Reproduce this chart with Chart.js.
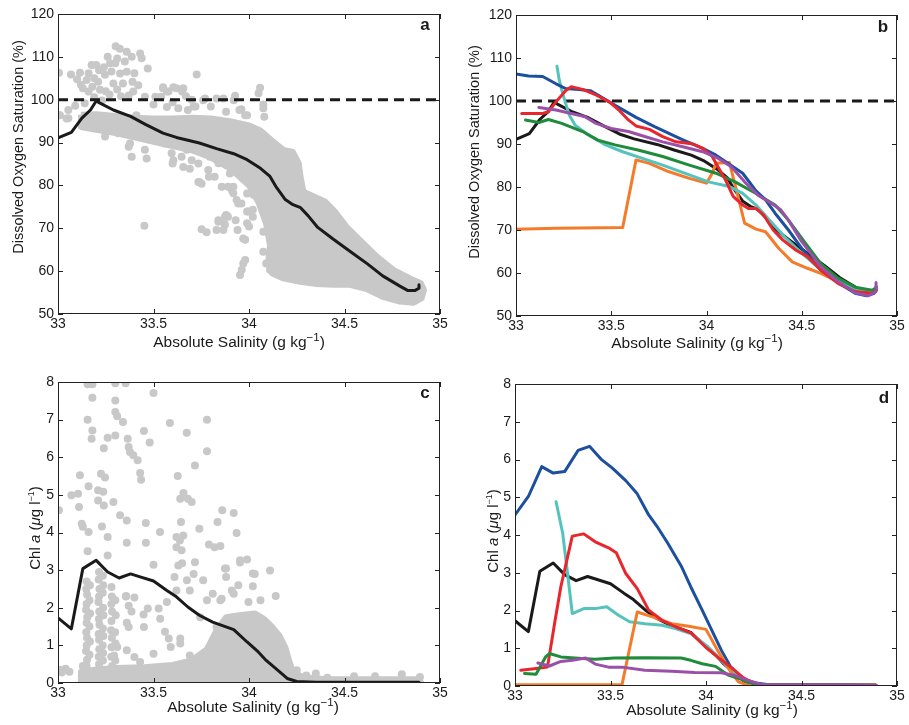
<!DOCTYPE html>
<html>
<head>
<meta charset="utf-8">
<script src="https://cdn.jsdelivr.net/npm/chart.js@4.4.0/dist/chart.umd.min.js"></script>
<style>
  html, body { margin: 0; padding: 0; background: #fff; }
  #wrap { position: relative; width: 909px; height: 725px; }
  #wrap canvas { position: absolute; }
</style>
</head>
<body>
<div id="wrap">
  <canvas id="panelA" width="455" height="360" style="left:0;top:0"></canvas>
  <canvas id="panelB" width="454" height="360" style="left:455px;top:0"></canvas>
  <canvas id="panelC" width="455" height="365" style="left:0;top:360px"></canvas>
  <canvas id="panelD" width="454" height="365" style="left:455px;top:360px"></canvas>
</div>
<script>
// Oxygen saturation and Chl a against absolute salinity

const salinityTicks = [33, 33.5, 34, 34.5, 35];
const oxygenTicks = [50, 60, 70, 80, 90, 100, 110, 120];
const chlTicks = [0, 1, 2, 3, 4, 5, 6, 7, 8];
const saturationLevel = 100;

// mean profiles
const o2Mean = [[33.0,91.1],[33.07,92.4],[33.125,95.7],[33.17,97.6],[33.2,99.7],[33.22,99.2],[33.29,97.6],[33.38,96.1],[33.46,94.2],[33.55,92.2],[33.62,91.2],[33.74,89.9],[33.83,88.6],[33.92,87.4],[33.99,86.0],[34.06,84.0],[34.11,82.1],[34.14,79.8],[34.19,76.7],[34.23,75.5],[34.27,74.8],[34.31,72.9],[34.36,70.2],[34.44,67.5],[34.53,64.6],[34.62,61.7],[34.70,58.9],[34.79,56.5],[34.83,55.5],[34.87,55.5],[34.89,56.0],[34.89,56.8]];
const chlMean = [[33.0,1.73],[33.07,1.44],[33.13,3.04],[33.2,3.26],[33.26,2.95],[33.32,2.79],[33.38,2.9],[33.43,2.82],[33.5,2.71],[33.57,2.46],[33.62,2.29],[33.68,2.02],[33.74,1.80],[33.81,1.62],[33.92,1.42],[33.99,1.09],[34.05,0.82],[34.09,0.60],[34.15,0.34],[34.2,0.12],[34.25,0.04],[34.35,0.02],[34.89,0.02]];

// individual profiles, oxygen
const o2Blue = [[33.0,106.3],[33.066,105.8],[33.14,105.7],[33.21,104.0],[33.26,102.9],[33.33,102.7],[33.39,102.4],[33.43,101.4],[33.5,99.5],[33.63,96.2],[33.73,94.0],[33.87,91.1],[33.98,89.0],[34.05,87.4],[34.12,85.3],[34.19,83.2],[34.26,79.1],[34.31,77.0],[34.36,73.9],[34.43,70.0],[34.5,65.7],[34.6,60.7],[34.71,57.2],[34.78,55.3],[34.84,54.7],[34.88,55.3],[34.89,56.0]];
const o2Cyan = [[33.215,108.1],[33.227,104.9],[33.24,102.6],[33.26,99.5],[33.28,96.7],[33.31,94.4],[33.38,92.1],[33.47,89.8],[33.56,88.2],[33.66,86.7],[33.77,85.1],[33.91,82.8],[34.01,81.2],[34.12,80.1],[34.19,78.5],[34.26,75.8],[34.33,72.3],[34.41,68.4],[34.5,64.6],[34.6,60.7],[34.71,57.6],[34.8,56.0],[34.88,55.9],[34.89,56.8]];
const o2Red = [[33.03,97.1],[33.14,97.1],[33.17,97.5],[33.21,99.8],[33.26,102.4],[33.29,103.3],[33.35,102.7],[33.42,101.4],[33.49,99.8],[33.54,97.9],[33.59,95.6],[33.63,94.2],[33.7,93.4],[33.77,91.7],[33.84,90.5],[33.93,90.0],[33.98,89.0],[34.03,87.1],[34.06,84.7],[34.1,81.6],[34.14,77.8],[34.19,75.8],[34.22,75.0],[34.26,75.0],[34.3,73.5],[34.35,70.0],[34.4,67.7],[34.47,65.3],[34.53,63.8],[34.6,60.7],[34.69,57.6],[34.78,55.7],[34.87,55.3],[34.89,55.9]];
const o2Green = [[33.05,95.6],[33.12,95.0],[33.17,95.7],[33.24,94.8],[33.35,92.9],[33.43,90.9],[33.52,89.8],[33.64,88.6],[33.77,87.1],[33.91,85.1],[34.05,83.2],[34.15,81.2],[34.26,78.5],[34.36,75.8],[34.43,72.3],[34.52,66.9],[34.6,62.2],[34.69,58.8],[34.78,56.7],[34.87,56.0],[34.89,56.6]];
const o2Purple = [[33.12,98.5],[33.21,97.9],[33.29,97.1],[33.36,96.4],[33.42,94.8],[33.5,93.6],[33.59,92.9],[33.68,91.7],[33.77,90.5],[33.87,89.4],[33.98,88.2],[34.06,86.7],[34.13,84.7],[34.2,81.2],[34.27,78.1],[34.34,76.2],[34.39,74.7],[34.43,72.3],[34.5,67.3],[34.6,61.5],[34.69,58.0],[34.78,55.4],[34.85,54.7],[34.89,55.7],[34.89,57.8]];
const o2Orange = [[33.0,70.2],[33.21,70.4],[33.56,70.6],[33.63,86.3],[33.7,85.5],[33.8,83.6],[33.91,82.0],[34.0,80.9],[34.03,83.2],[34.05,85.5],[34.12,85.7],[34.17,77.0],[34.2,71.6],[34.26,70.2],[34.31,69.6],[34.38,65.7],[34.45,62.6],[34.53,61.1],[34.6,59.9],[34.69,58.0],[34.78,56.4],[34.87,55.7]];

// individual profiles, Chl a
const chlBlue = [[33.0,4.53],[33.07,5.02],[33.14,5.81],[33.2,5.64],[33.26,5.68],[33.33,6.24],[33.39,6.35],[33.45,6.01],[33.51,5.77],[33.58,5.44],[33.64,5.09],[33.7,4.53],[33.75,4.18],[33.8,3.78],[33.87,3.18],[33.92,2.63],[33.98,2.01],[34.03,1.48],[34.08,0.95],[34.13,0.50],[34.19,0.19],[34.26,0.08],[34.34,0.03],[34.89,0.02]];
const chlCyan = [[33.215,4.88],[33.25,4.04],[33.3,1.92],[33.36,2.05],[33.42,2.05],[33.48,2.10],[33.54,1.88],[33.6,1.70],[33.68,1.65],[33.77,1.61],[33.84,1.52],[33.92,1.39],[34.01,1.04],[34.08,0.68],[34.14,0.37],[34.2,0.15],[34.26,0.04],[34.89,0.02]];
const chlRed = [[33.03,0.42],[33.1,0.46],[33.17,0.50],[33.21,1.74],[33.24,2.63],[33.3,3.97],[33.36,4.03],[33.42,3.82],[33.49,3.66],[33.53,3.53],[33.58,2.98],[33.64,2.58],[33.7,2.01],[33.77,1.74],[33.84,1.57],[33.92,1.41],[34.0,1.02],[34.06,0.77],[34.13,0.50],[34.19,0.24],[34.26,0.04],[34.89,0.02]];
const chlOrange = [[33.0,0.03],[33.56,0.03],[33.64,1.96],[33.72,1.83],[33.82,1.65],[33.91,1.58],[34.0,1.50],[34.06,0.95],[34.13,0.37],[34.17,0.11],[34.22,0.02],[34.89,0.02]];
const chlGreen = [[33.05,0.33],[33.11,0.31],[33.16,0.77],[33.18,0.86],[33.24,0.77],[33.35,0.73],[33.42,0.71],[33.52,0.74],[33.68,0.75],[33.87,0.74],[33.92,0.68],[33.98,0.59],[34.05,0.52],[34.12,0.28],[34.19,0.17],[34.26,0.04],[34.89,0.02]];
const chlPurple = [[33.12,0.61],[33.18,0.53],[33.24,0.65],[33.3,0.68],[33.37,0.74],[33.42,0.58],[33.49,0.50],[33.56,0.50],[33.68,0.42],[33.82,0.39],[33.94,0.36],[34.08,0.35],[34.15,0.28],[34.22,0.15],[34.29,0.04],[34.89,0.02]];

// all observations: dense core outline plus scattered samples
const o2Cloud = [[33.12,96.5],[33.2,96.6],[33.3,96.2],[33.4,95.8],[33.5,95.6],[33.6,95.6],[33.7,95.8],[33.8,95.6],[33.9,95.0],[34.0,94.0],[34.06,92.8],[34.12,90.5],[34.18,88.3],[34.23,87.8],[34.26,85.2],[34.27,82.0],[34.285,78.5],[34.34,77.4],[34.40,76.2],[34.45,73.9],[34.51,70.4],[34.58,67.3],[34.67,63.4],[34.756,60.3],[34.843,58.3],[34.9,57.2],[34.916,55.6],[34.904,53.7],[34.86,52.6],[34.79,52.9],[34.70,54.0],[34.616,55.8],[34.53,56.8],[34.44,56.8],[34.354,57.0],[34.267,57.5],[34.18,58.3],[34.12,59.5],[34.10,62.0],[34.11,66.0],[34.09,71.0],[34.05,76.0],[34.0,80.0],[33.9,84.0],[33.8,86.5],[33.7,88.2],[33.6,89.2],[33.5,90.2],[33.4,91.2],[33.3,92.2],[33.2,93.0],[33.12,93.6],[33.12,96.5]];
const o2Samples = [[33.302,112.5],[33.324,111.9],[33.36,111.2],[33.386,110.0],[33.43,110.8],[33.438,109.7],[33.26,110.0],[33.272,108.5],[33.30,108.5],[33.176,108.1],[33.2,108.1],[33.215,106.9],[33.115,106.3],[33.16,106.2],[33.005,106.3],[33.068,105.9],[33.15,104.6],[33.19,105.0],[33.246,105.8],[33.29,103.8],[33.34,103.8],[33.36,106.5],[33.40,106.2],[33.42,103.4],[33.325,106.1],[33.47,107.3],[33.726,105.9],[33.55,102.7],[33.578,101.9],[33.62,102.7],[33.65,101.9],[33.67,100.8],[33.70,100.0],[33.77,100.3],[33.866,100.3],[33.927,100.9],[33.98,96.4],[33.394,101.9],[33.455,100.7],[33.51,100.7],[33.13,102.7],[33.16,101.9],[33.22,102.3],[33.054,97.6],[33.01,96.4],[33.045,95.6],[33.54,100.7],
  [33.10,104.8],[33.12,103.5],[33.18,103.0],[33.21,104.2],[33.25,102.0],[33.27,101.2],[33.31,102.4],[33.33,100.8],[33.37,101.0],[33.39,104.2],[33.24,107.6],[33.28,106.6],[33.35,108.9],[33.31,109.6],[33.19,100.6],[33.14,99.2],[33.09,98.6],[33.23,99.8],
  [33.5,98.9],[33.57,98.3],[33.6,99.4],[33.63,98.0],[33.68,97.6],[33.72,98.4],[33.76,99.9],[33.83,100.3],[33.92,99.9],[33.95,97.6],[33.99,96.4],[33.88,97.2],[33.80,98.4],[33.71,98.4],[33.604,102.9],[33.656,102.7],[33.55,102.9],[33.57,101.9],[34.058,102.8],[34.05,101.5],[34.075,98.0],[34.08,96.0],[33.96,97.8],[34.075,98.9],[34.215,86.7],[34.25,85.1],[34.232,86.7],
  [33.51,91.4],[33.56,89.8],[33.595,87.5],[33.647,86.7],[33.70,85.9],[33.735,85.1],[33.752,80.4],[33.787,83.6],[33.82,82.0],[33.857,79.7],[33.91,78.9],[33.935,76.6],[33.96,75.8],[33.89,72.7],[33.99,73.9],[33.84,71.5],[33.874,70.8],[33.735,80.8],[33.377,89.8],[33.455,88.3],[33.386,86.7],[33.316,92.2],[33.246,91.4],[33.37,89.0],[33.464,86.3],[33.60,85.1],[33.656,84.3],[33.69,83.9],[33.74,80.8],[33.79,82.0],[33.89,79.7],[33.99,78.1],[33.88,73.1],[33.84,71.9],[34.0,70.4],[33.452,70.6],[33.752,69.8],[33.778,69.1],[33.83,69.6],[33.866,71.5],[33.883,72.9],[33.94,69.6],[33.98,67.3],[33.97,61.8],[33.962,60.3],[33.953,59.1],[33.98,62.6],[33.944,75.8],[33.997,73.9],[34.02,72.7],[33.918,78.2],[34.023,77.8],[33.9,82.8],[33.84,85.2],[33.796,86.7],[33.674,88.3],[33.604,85.9],[34.075,64.5],[34.09,61.8],[34.11,60.3],[33.866,69.6],[33.874,72.7],[33.93,71.9],[33.99,71.2],[33.97,67.6],[34.02,74.3],[34.075,69.2],[34.04,78.9],[33.918,79.7],[33.44,94.9],[33.41,96.4],[33.007,96.4],[33.054,95.7]];

const chlCloud = [[33.12,0.02],[33.12,0.3],[33.2,0.36],[33.3,0.4],[33.45,0.42],[33.6,0.48],[33.7,0.6],[33.78,0.9],[33.83,1.4],[33.88,1.75],[33.95,1.8],[34.03,1.85],[34.08,1.7],[34.12,1.5],[34.16,1.25],[34.19,0.95],[34.21,0.6],[34.23,0.3],[34.28,0.16],[34.4,0.1],[34.6,0.1],[34.88,0.1],[34.9,0.02],[33.12,0.02]];
// columns of samples on the fresh side
const chlColumns = [[33.15,2.7],[33.148,2.5],[33.152,2.35],[33.15,2.1],[33.147,1.95],[33.153,1.75],[33.15,1.6],[33.148,1.35],[33.152,1.2],[33.15,1.0],[33.147,0.85],[33.152,0.62],[33.15,0.45],
  [33.167,2.6],[33.165,2.2],[33.168,1.85],[33.165,1.5],[33.167,1.1],[33.165,0.75],
  [33.215,2.95],[33.213,2.75],[33.217,2.5],[33.215,2.3],[33.212,2.15],[33.216,1.9],[33.214,1.7],[33.217,1.55],[33.213,1.3],[33.215,1.15],[33.216,0.9],[33.213,0.7],[33.215,0.5],
  [33.235,2.85],[33.237,2.6],[33.234,2.4],[33.236,2.0],[33.238,1.8],[33.235,1.45],[33.237,1.25],[33.234,1.0],[33.236,0.8],[33.235,0.6],
  [33.28,2.55],[33.282,2.3],[33.279,2.1],[33.283,1.9],[33.28,1.65],[33.278,1.4],[33.282,1.2],[33.28,0.95],[33.279,0.7],[33.283,0.45],
  [33.30,2.2],[33.302,1.8],[33.299,1.35],[33.301,1.05],[33.30,0.6],
  [33.355,2.3],[33.37,2.05],[33.385,1.9],[33.36,1.6]];
const chlSamples = [[33.155,7.94],[33.18,7.94],[33.30,7.97],[33.354,7.97],[33.50,7.71],[33.18,7.58],[33.30,7.51],[33.30,7.2],[33.31,7.09],[33.155,7.0],[33.34,6.94],[33.586,6.91],[33.78,7.0],[33.18,6.71],[33.176,6.49],[33.30,6.58],[33.26,6.52],[33.45,6.70],[33.48,6.39],[33.674,6.65],[33.24,6.24],[33.365,6.49],[33.37,6.27],[33.377,6.14],[33.394,6.05],[33.417,5.92],[33.78,6.16],[33.717,5.78],[33.43,5.58],[33.435,5.40],[33.225,5.56],[33.246,5.46],[33.115,5.52],[33.16,5.23],[33.07,4.99],[33.105,5.03],[33.11,4.68],[33.21,5.12],[33.237,5.08],[33.21,4.85],[33.24,4.72],[33.29,4.81],[33.005,4.59],[33.627,5.50],[33.657,5.05],[33.64,4.9],[33.68,4.9],[33.70,4.81],[33.325,4.46],[33.36,4.32],[33.124,4.23],[33.13,4.15],[33.16,4.01],[33.23,4.16],[33.26,3.88],[33.36,3.73],[33.46,4.25],[33.46,3.73],[33.534,4.01],[33.644,4.28],[33.62,3.88],[33.638,3.79],[33.656,3.92],[33.62,3.61],[33.647,3.53],[33.74,4.10],[33.79,3.68],[33.82,3.61],[33.85,3.64],[33.86,4.59],[33.92,4.52],[33.835,4.28],[33.935,3.99],[33.155,3.5],[33.26,3.39],[33.5,3.14],[33.63,3.12],[33.65,3.18],[33.717,3.21],[33.953,3.26],[33.99,3.28],[33.88,3.04],[34.02,2.91],
  [33.357,2.31],[33.40,2.27],[33.37,1.49],[33.448,1.82],[33.45,1.49],[33.47,1.98],[33.527,1.98],[33.535,1.71],[33.57,2.15],[33.56,1.36],[33.58,1.18],[33.64,1.18],[33.64,1.05],[33.59,0.96],[33.61,2.82],[33.62,2.46],[33.675,2.73],[33.69,2.46],[33.71,2.9],[33.76,2.73],[33.81,2.37],[33.78,2.2],[33.85,2.2],[33.745,1.75],[33.83,1.49],[33.92,1.75],[33.5,0.78],[33.43,0.56],[33.40,0.69],[33.36,0.87],[33.31,0.96],[33.294,0.73],[33.69,0.73],[33.745,0.6],[33.81,0.78],
  [33.874,3.04],[33.88,2.82],[33.91,2.46],[33.92,2.37],[33.944,2.6],[34.02,2.57],[34.03,2.9],[34.11,2.99],[34.14,2.31],[33.997,2.15],[33.857,2.24],[33.953,3.2],[34.06,2.2],
  [34.25,0.34],[34.35,0.25],[34.41,0.14],[34.55,0.18],[34.66,0.18],[34.80,0.23],[34.895,0.16],[34.3,0.2],[33.01,0.35],[33.04,0.38],[33.06,0.3],[33.02,0.28],[33.13,0.45],[33.18,0.3]];

const GREY = '#c8c8c8';
const INK = '#1a1a1a';
const FONT = "'Liberation Sans', Arial, Helvetica, sans-serif";
const colors = { blue: '#1d4f9f', cyan: '#55c3bd', red: '#e8262b', green: '#1f8b3b', purple: '#9b50a8', orange: '#f47b2a' };

const toXY = arr => arr.map(p => ({ x: p[0], y: p[1] }));

function lineSet(data, color, order, width) {
  return {
    data: toXY(data), showLine: true, borderColor: color, borderWidth: width || 3,
    pointRadius: 0, tension: 0, borderJoinStyle: 'round', borderCapStyle: 'round',
    fill: false, order: order
  };
}
function dotSet(data, order) {
  return {
    data: toXY(data), showLine: false, pointRadius: 4, pointBackgroundColor: GREY,
    pointBorderWidth: 0, order: order
  };
}
function cloudSet(data, order) {
  return {
    data: toXY(data), showLine: true, borderColor: GREY, backgroundColor: GREY,
    borderWidth: 6, borderJoinStyle: 'round', pointRadius: 0, tension: 0,
    fill: 'shape', order: order
  };
}
function dashSet(order) {
  return {
    data: [{ x: salinityTicks[0], y: saturationLevel }, { x: salinityTicks[salinityTicks.length - 1], y: saturationLevel }],
    showLine: true, borderColor: INK, borderWidth: 3, borderDash: [10, 6],
    pointRadius: 0, order: order
  };
}

// frame with inward tick marks on all four sides
const framePlugin = {
  id: 'frame',
  afterDatasetsDraw(chart) {
    const { ctx, chartArea: a, scales } = chart;
    ctx.save();
    ctx.strokeStyle = '#222';
    ctx.lineWidth = 1;
    ctx.strokeRect(a.left + 0.5, a.top + 0.5, a.right - a.left - 1, a.bottom - a.top - 1);
    ctx.beginPath();
    scales.x.ticks.forEach(t => {
      const px = Math.round(scales.x.getPixelForValue(t.value)) + 0.5;
      ctx.moveTo(px, a.bottom); ctx.lineTo(px, a.bottom - 5);
      ctx.moveTo(px, a.top); ctx.lineTo(px, a.top + 5);
    });
    scales.y.ticks.forEach(t => {
      const py = Math.round(scales.y.getPixelForValue(t.value)) + 0.5;
      ctx.moveTo(a.left, py); ctx.lineTo(a.left + 5, py);
      ctx.moveTo(a.right, py); ctx.lineTo(a.right - 5, py);
    });
    ctx.stroke();
    ctx.restore();
  }
};

// text runs: [text, fontSpec, raise]
function drawRuns(ctx, runs, cx, cy, rotated) {
  ctx.save();
  ctx.translate(cx, cy);
  if (rotated) ctx.rotate(-Math.PI / 2);
  ctx.fillStyle = INK;
  ctx.textBaseline = 'alphabetic';
  let total = 0;
  runs.forEach(r => { ctx.font = r[1]; total += ctx.measureText(r[0]).width; });
  let x = -total / 2;
  runs.forEach(r => {
    ctx.font = r[1];
    ctx.fillText(r[0], x, -(r[2] || 0));
    x += ctx.measureText(r[0]).width;
  });
  ctx.restore();
}

const salinityTitle = [
  ['Absolute Salinity (g kg', '15.5px ' + FONT],
  ['\u22121', '11.5px ' + FONT, 6],
  [')', '15.5px ' + FONT]
];
const oxygenTitle = [['Dissolved Oxygen Saturation (%)', '14.5px ' + FONT]];
const chlTitle = [
  ['Chl ', '15px ' + FONT],
  ['a', 'italic 15px ' + FONT],
  [' (', '15px ' + FONT],
  ['\u03bc', 'italic 15px ' + FONT],
  ['g l', '15px ' + FONT],
  ['\u22121', '9px ' + FONT, 6],
  [')', '15px ' + FONT]
];

const labelPlugin = {
  id: 'panelText',
  afterDraw(chart, args, opts) {
    const ctx = chart.ctx;
    drawRuns(ctx, opts.xTitle, opts.xPos[0], opts.xPos[1], false);
    drawRuns(ctx, opts.yTitle, opts.yPos[0], opts.yPos[1], true);
    ctx.save();
    ctx.font = 'bold 17px ' + FONT;
    ctx.fillStyle = INK;
    ctx.textAlign = 'center';
    ctx.textBaseline = 'middle';
    ctx.fillText(opts.letter, opts.letterPos[0], opts.letterPos[1]);
    ctx.restore();
  }
};

function makePanel(id, area, yMin, yMax, yTicks, datasets, text) {
  const canvas = document.getElementById(id);
  const w = canvas.width, h = canvas.height;
  const tickFont = { family: FONT, size: 14 };
  return new Chart(canvas, {
    type: 'scatter',
    data: { datasets },
    options: {
      responsive: false,
      animation: false,
      events: [],
      layout: { padding: { left: 0, top: area.t, right: w - area.r, bottom: 0 } },
      plugins: { legend: { display: false }, tooltip: { enabled: false }, panelText: text },
      scales: {
        x: {
          type: 'linear', min: salinityTicks[0], max: salinityTicks[salinityTicks.length - 1],
          afterBuildTicks: s => { s.ticks = salinityTicks.map(v => ({ value: v })); },
          afterFit: s => { s.height = h - area.b; },
          grid: { display: false, drawTicks: false },
          border: { display: false },
          ticks: { font: tickFont, color: INK, padding: 2, maxRotation: 0, autoSkip: false, callback: v => String(v) }
        },
        y: {
          type: 'linear', min: yMin, max: yMax,
          afterBuildTicks: s => { s.ticks = yTicks.map(v => ({ value: v })); },
          afterFit: s => { s.width = area.l; },
          grid: { display: false, drawTicks: false },
          border: { display: false },
          ticks: { font: tickFont, color: INK, padding: 4, autoSkip: false, callback: v => String(v) }
        }
      }
    },
    plugins: [framePlugin, labelPlugin]
  });
}

// a: all oxygen observations with the mean
makePanel('panelA', { l: 58, r: 440, t: 14, b: 314 }, 50, 120, oxygenTicks, [
  lineSet(o2Mean, INK, 0),
  dashSet(1),
  dotSet(o2Samples, 2),
  cloudSet(o2Cloud, 3)
], { xTitle: salinityTitle, xPos: [239, 347], yTitle: oxygenTitle, yPos: [23, 147], letter: 'a', letterPos: [425, 25] });

// b: individual oxygen profiles
makePanel('panelB', { l: 61, r: 442, t: 15, b: 316 }, 50, 120, oxygenTicks, [
  lineSet(o2Purple, colors.purple, 0),
  lineSet(o2Red, colors.red, 1),
  lineSet(o2Blue, colors.blue, 2),
  lineSet(o2Green, colors.green, 3),
  lineSet(o2Cyan, colors.cyan, 4),
  lineSet(o2Orange, colors.orange, 5),
  lineSet(o2Mean, INK, 6),
  dashSet(7)
], { xTitle: salinityTitle, xPos: [242, 348], yTitle: oxygenTitle, yPos: [24, 152], letter: 'b', letterPos: [428, 27] });

// c: all Chl a observations with the mean
makePanel('panelC', { l: 58, r: 440, t: 22, b: 323 }, 0, 8, chlTicks, [
  lineSet(chlMean, INK, 0),
  dotSet(chlSamples, 2),
  dotSet(chlColumns, 3),
  cloudSet(chlCloud, 4)
], { xTitle: salinityTitle, xPos: [253, 352], yTitle: chlTitle, yPos: [40, 168], letter: 'c', letterPos: [425, 33] });

// d: individual Chl a profiles
makePanel('panelD', { l: 60, r: 442, t: 24, b: 326 }, 0, 8, chlTicks, [
  lineSet(chlPurple, colors.purple, 0),
  lineSet(chlGreen, colors.green, 1),
  lineSet(chlRed, colors.red, 2),
  lineSet(chlOrange, colors.orange, 3),
  lineSet(chlCyan, colors.cyan, 4),
  lineSet(chlMean, INK, 5),
  lineSet(chlBlue, colors.blue, 6)
], { xTitle: salinityTitle, xPos: [257, 355], yTitle: chlTitle, yPos: [43, 171], letter: 'd', letterPos: [429, 38] });
</script>
</body>
</html>
